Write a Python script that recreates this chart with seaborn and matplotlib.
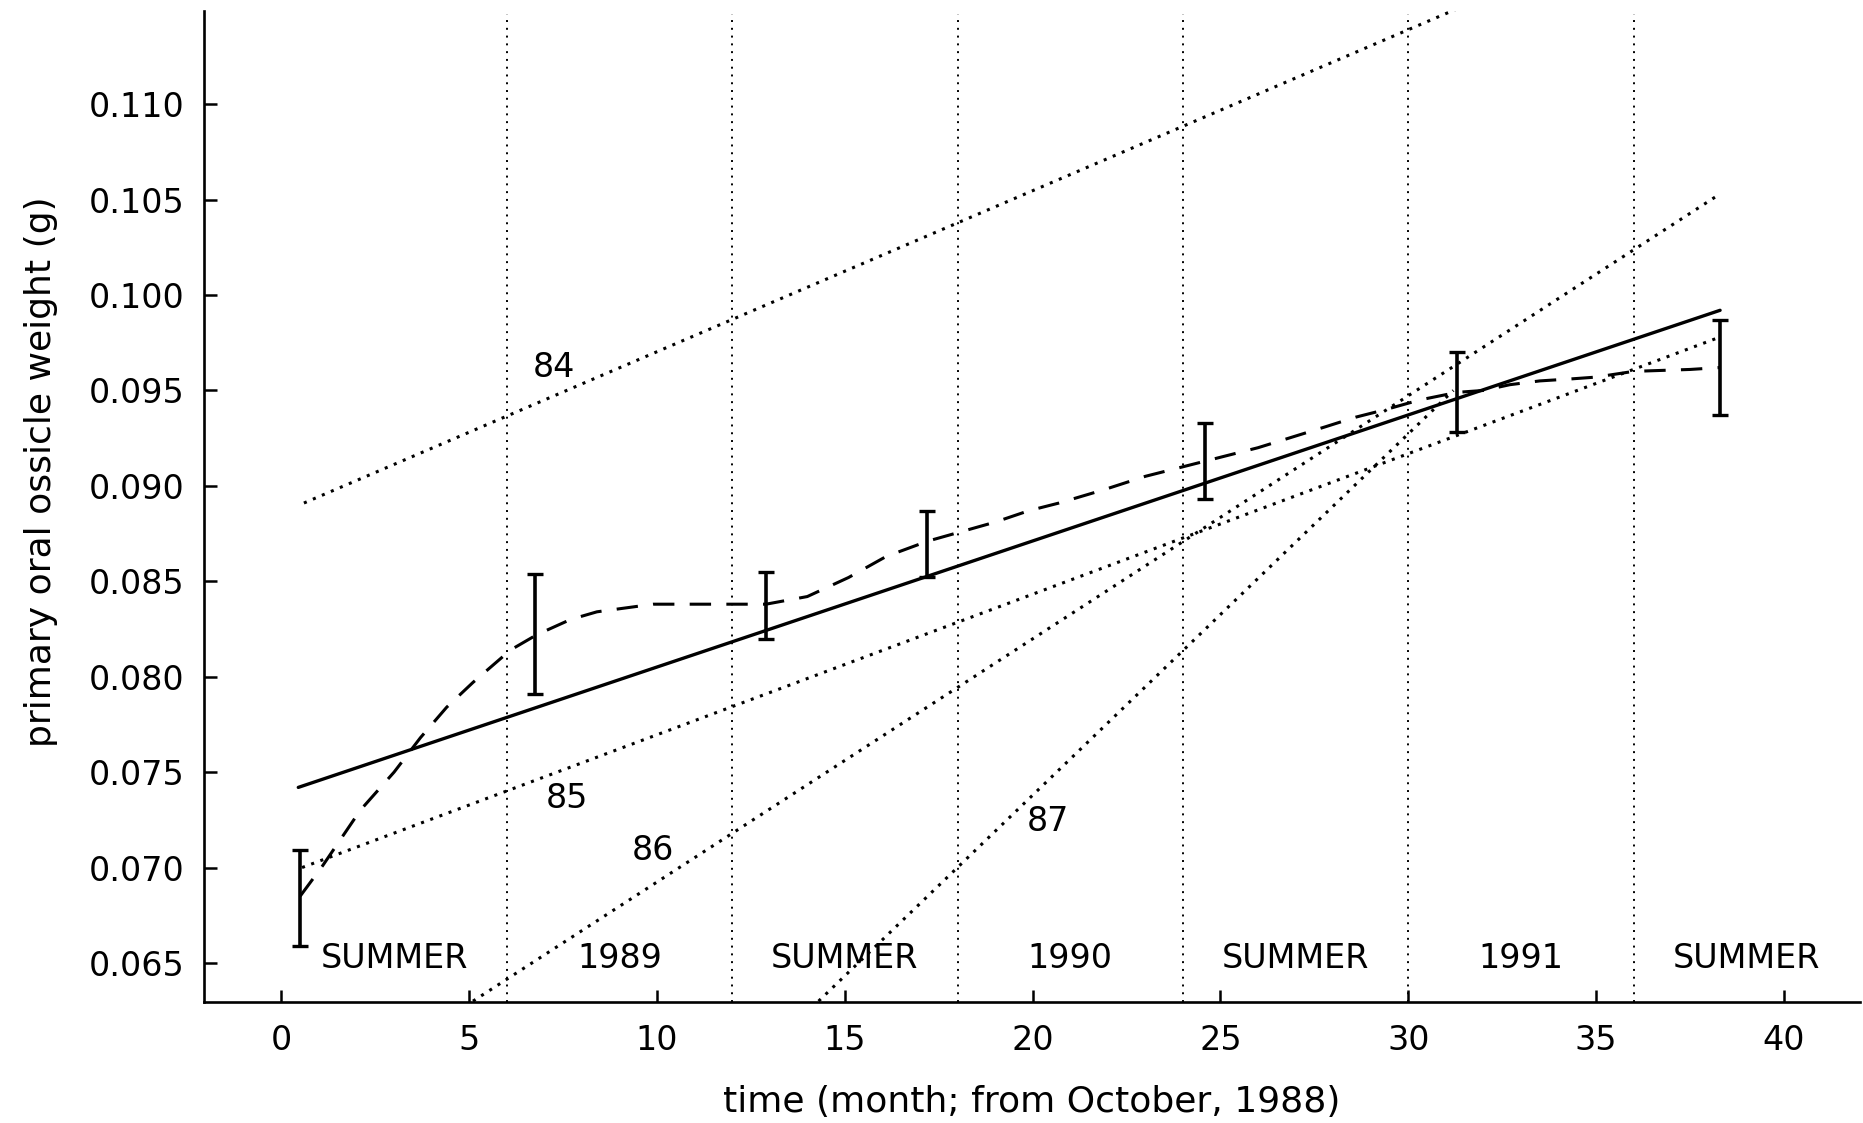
import matplotlib
matplotlib.use("Agg")
import matplotlib.pyplot as plt
import seaborn as sns
import pandas as pd

# sampling times (month from October 1988), means and error-bar limits
sample_month = [0.5, 6.75, 12.9, 17.2, 24.6, 31.3, 38.3]
sample_mean = [0.0684, 0.0822, 0.0838, 0.0871, 0.0913, 0.0949, 0.0962]
sample_low = [0.0659, 0.0791, 0.0820, 0.0852, 0.0893, 0.0928, 0.0937]
sample_high = [0.0709, 0.0854, 0.0855, 0.0887, 0.0933, 0.0970, 0.0987]

# smooth dashed curve
curve_month = [0.5, 1.1, 2.1, 3.0, 3.7, 4.4, 5.1, 6.1, 6.8, 7.7, 8.4, 9.9, 11.0,
               12.9, 14.0, 15.1, 16.1, 17.2, 18.1, 19.0, 19.9, 20.7, 21.9, 23.0,
               24.6, 26.0, 27.8, 28.6, 29.4, 30.3, 31.3, 32.0, 32.7, 33.5, 34.3,
               35.0, 36.0, 37.5, 38.3]
curve_weight = [0.0685, 0.0701, 0.0730, 0.0750, 0.0768, 0.0784, 0.0797, 0.0814,
                0.0822, 0.0830, 0.0834, 0.0838, 0.0838, 0.0838, 0.0842, 0.0852,
                0.0863, 0.0871, 0.0876, 0.0881, 0.0887, 0.0891, 0.0898, 0.0905,
                0.0913, 0.0920, 0.0931, 0.0936, 0.0940, 0.0945, 0.0949, 0.0950,
                0.0953, 0.0955, 0.0956, 0.0957, 0.0960, 0.0961, 0.0962]

# overall linear fit (solid)
fit_month = [0.45, 38.3]
fit_weight = [0.0742, 0.0992]

# year-class fits (dotted): start and end points
cohorts = ["84", "85", "86", "87"]
cohort_month = [[0.6, 31.3], [0.55, 38.3], [5.1, 38.3], [14.3, 31.2]]
cohort_weight = [[0.0891, 0.1150], [0.0700, 0.0978], [0.0630, 0.1053], [0.0630, 0.0950]]
cohort_label_pos = [(7.25, 0.0962), (7.6, 0.0736), (9.9, 0.0709), (20.4, 0.0724)]

season_bounds = [6, 12, 18, 24, 30, 36]
season_names = ["SUMMER", "1989", "SUMMER", "1990", "SUMMER", "1991", "SUMMER"]
season_centres = [3, 9, 15, 21, 27, 33, 39]

sns.set_style("ticks")
plt.rcParams["font.family"] = ["DejaVu Sans"]
plt.rcParams.update({"text.color": "black", "axes.labelcolor": "black",
                     "xtick.color": "black", "ytick.color": "black",
                     "axes.edgecolor": "black"})

fig = plt.figure(figsize=(18.63, 11.23), dpi=100)
ax = fig.add_axes([0.1095, 0.108, 0.889, 0.8825])

for b in season_bounds:
    ax.axvline(b, ymin=0, ymax=0.997, color="black", lw=1.4, ls=(0, (1, 3)))

for name, xs, ys in zip(cohorts, cohort_month, cohort_weight):
    d = pd.DataFrame({"month": xs, "weight": ys})
    sns.lineplot(data=d, x="month", y="weight", ax=ax, color="black",
                 lw=2.2, linestyle=(0, (1, 2.2)), sort=False)
for name, (lx, ly) in zip(cohorts, cohort_label_pos):
    ax.text(lx, ly, name, fontsize=24, ha="center", va="center")

fit = pd.DataFrame({"month": fit_month, "weight": fit_weight})
sns.lineplot(data=fit, x="month", y="weight", ax=ax, color="black", lw=2.4)

curve = pd.DataFrame({"month": curve_month, "weight": curve_weight})
sns.lineplot(data=curve, x="month", y="weight", ax=ax, color="black", lw=2.2,
             linestyle=(0, (7, 5)), sort=False)

lo = [m - l for m, l in zip(sample_mean, sample_low)]
hi = [h - m for m, h in zip(sample_mean, sample_high)]
ax.errorbar(sample_month, sample_mean, yerr=[lo, hi], fmt="none", ecolor="black",
            elinewidth=2.6, capsize=6, capthick=2.4)

for name, cx in zip(season_names, season_centres):
    ax.text(cx, 0.06525, name, fontsize=24, ha="center", va="center")

ax.set_xlim(-2.06, 42.03)
ax.set_ylim(0.06297, 0.1149)
ax.set_xticks(range(0, 41, 5))
ax.set_yticks([0.065, 0.070, 0.075, 0.080, 0.085, 0.090, 0.095, 0.100, 0.105, 0.110])
ax.set_yticklabels(["0.065", "0.070", "0.075", "0.080", "0.085", "0.090",
                    "0.095", "0.100", "0.105", "0.110"])
ax.tick_params(axis="both", direction="in", length=9, width=1.8, labelsize=24)
ax.tick_params(axis="y", pad=14)
ax.tick_params(axis="x", pad=16)
sns.despine(ax=ax)
for s in ["left", "bottom"]:
    ax.spines[s].set_linewidth(1.9)

ax.set_xlabel("time (month; from October, 1988)", fontsize=26, labelpad=20)
ax.set_ylabel("primary oral ossicle weight (g)", fontsize=26)
ax.yaxis.set_label_coords(-0.088, 0.535)

fig.savefig("out.png", dpi=100)
